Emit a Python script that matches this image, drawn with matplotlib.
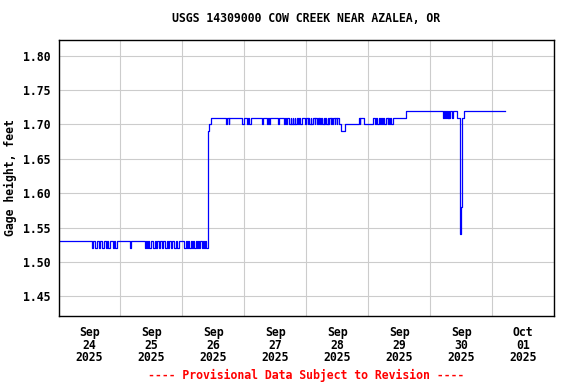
import numpy as np
import pandas as pd
import matplotlib
matplotlib.use("Agg")
import matplotlib.pyplot as plt
import matplotlib.dates as mdates

# Dados: horas desde 24/09/2025 00:00 e altura (pés) em cada mudança de nível

horas_1 = [0, 13.0, 13.5, 14.0, 15.0, 15.5, 16.0, 16.75, 17.75, 18.25, 18.75,
           19.25, 20.0, 21.0, 21.5, 22.0, 22.5, 27.75, 28.0, 33.5, 33.75,
           34.25, 34.5, 35.25, 35.75, 36.5, 37.25, 37.75, 38.0, 38.75, 39.25,
           40.0, 40.5, 41.25, 42.0, 42.25, 43.0, 43.5, 44.0, 44.75, 45.5,
           45.75, 46.5, 48.5, 49.25, 49.75, 50.0, 50.5, 51.25, 51.75, 52.0,
           52.5, 53.25, 53.5, 54.0, 54.5, 55.0, 55.5, 56.0, 56.25, 56.75, 57.0]
altura_1 = [1.53, 1.52, 1.53, 1.52, 1.53, 1.52, 1.53, 1.52, 1.53, 1.52, 1.53,
            1.52, 1.53, 1.52, 1.53, 1.52, 1.53, 1.52, 1.53, 1.52, 1.53,
            1.52, 1.53, 1.52, 1.53, 1.52, 1.53, 1.52, 1.53, 1.52, 1.53,
            1.52, 1.53, 1.52, 1.53, 1.52, 1.53, 1.52, 1.53, 1.52, 1.53,
            1.52, 1.53, 1.52, 1.53, 1.52, 1.53, 1.52, 1.53, 1.52, 1.53,
            1.52, 1.53, 1.52, 1.53, 1.52, 1.53, 1.52, 1.53, 1.52, 1.53, 1.52]

# subida do dia 26
horas_2 = [57.75, 58.0, 58.5, 59.25]
altura_2 = [1.63, 1.69, 1.70, 1.71]

horas_3 = [64.75, 65.25, 66.0, 66.25, 71.25, 72.0, 73.0, 73.25, 74.0, 74.75,
           78.75, 79.25, 80.75, 81.0, 81.5, 82.0, 85.0, 85.25, 87.5, 87.75,
           88.25, 88.5, 89.5, 90.0, 90.25, 90.75, 91.0, 91.5, 91.75, 92.25,
           92.75, 93.25, 93.75, 94.25, 95.5, 96.0, 96.5, 96.75, 97.25, 97.75,
           98.0, 98.5, 99.25, 99.5, 100.0, 100.5, 100.75, 101.0, 101.25, 101.75,
           102.25, 102.75, 103.0, 103.25, 103.75, 104.25, 104.5, 105.0, 105.5, 105.75,
           106.0, 106.5, 107.0, 107.25, 107.75, 108.0, 108.5, 109.5, 111.0]
altura_3 = [1.70, 1.71, 1.70, 1.71, 1.70, 1.71, 1.70, 1.71, 1.70, 1.71,
            1.70, 1.71, 1.70, 1.71, 1.70, 1.71, 1.70, 1.71, 1.70, 1.71,
            1.70, 1.71, 1.70, 1.71, 1.70, 1.71, 1.70, 1.71, 1.70, 1.71,
            1.70, 1.71, 1.70, 1.71, 1.70, 1.71, 1.70, 1.71, 1.70, 1.71,
            1.70, 1.71, 1.70, 1.71, 1.70, 1.71, 1.70, 1.71, 1.70, 1.71,
            1.70, 1.71, 1.70, 1.71, 1.70, 1.71, 1.70, 1.71, 1.70, 1.71,
            1.70, 1.71, 1.70, 1.71, 1.70, 1.71, 1.70, 1.69, 1.70]

horas_4 = [116.25, 116.75, 117.0, 118.25, 122.0, 122.5, 123.0, 123.5, 124.0, 124.75,
           125.0, 125.5, 125.75, 126.25, 127.0, 127.5, 127.75, 128.25, 128.5, 129.0,
           129.5, 134.5]
altura_4 = [1.71, 1.70, 1.71, 1.70, 1.71, 1.70, 1.71, 1.70, 1.71, 1.70,
            1.71, 1.70, 1.71, 1.70, 1.71, 1.70, 1.71, 1.70, 1.71, 1.70,
            1.71, 1.72]

horas_5 = [149.0, 149.5, 149.75, 150.25, 150.5, 150.75, 151.0, 151.25, 151.5, 151.75,
           152.5, 152.75, 154.25, 155.5, 155.75, 156.0, 156.25, 157.0, 173.0]
altura_5 = [1.71, 1.72, 1.71, 1.72, 1.71, 1.72, 1.71, 1.72, 1.71, 1.72,
            1.71, 1.72, 1.71, 1.58, 1.54, 1.58, 1.71, 1.72, 1.72]

horas = horas_1 + horas_2 + horas_3 + horas_4 + horas_5
altura = altura_1 + altura_2 + altura_3 + altura_4 + altura_5

inicio = pd.Timestamp("2025-09-24 00:00")
tempo = inicio + pd.to_timedelta(horas, unit="h")

# Gráfico

plt.rcParams["font.family"] = "DejaVu Sans Mono"
plt.rcParams["font.weight"] = "bold"
plt.rcParams["axes.labelweight"] = "bold"
plt.rcParams["font.size"] = 8.3

fig = plt.figure(figsize=(5.76, 3.84), dpi=100)
ax = fig.add_axes([58.5 / 576, 1 - 316 / 384, (554 - 58.5) / 576, (316 - 39.5) / 384])

ax.step(tempo, altura, where="post", color="#0000ff", linewidth=0.9)

ax.set_xlim(pd.Timestamp("2025-09-24"), pd.Timestamp("2025-10-02"))
ax.set_ylim(1.4215, 1.8235)

ax.xaxis.set_major_locator(mdates.DayLocator())
ax.xaxis.set_major_formatter(plt.NullFormatter())
ax.xaxis.set_minor_locator(mdates.HourLocator(byhour=[12]))
ax.xaxis.set_minor_formatter(mdates.DateFormatter("%b\n%d\n%Y"))
ax.set_yticks([1.45, 1.50, 1.55, 1.60, 1.65, 1.70, 1.75, 1.80])
ax.yaxis.set_major_formatter(plt.FormatStrFormatter("%.2f"))

ax.tick_params(axis="x", which="both", length=0, pad=7)
ax.tick_params(axis="y", length=0, pad=6)
plt.setp(ax.get_xminorticklabels(), linespacing=0.98, fontweight="bold")
plt.setp(ax.get_yticklabels(), fontweight="bold")
ax.grid(True, which="major", color="#cccccc", linewidth=0.8)
ax.set_axisbelow(True)
for s in ax.spines.values():
    s.set_linewidth(1.0)

ax.set_ylabel("Gage height, feet", labelpad=4, fontweight="bold")
fig.text(306 / 576, 1 - 19 / 384, "USGS 14309000 COW CREEK NEAR AZALEA, OR",
         ha="center", va="center", fontweight="bold")
fig.text(306 / 576, 1 - 375 / 384, "---- Provisional Data Subject to Revision ----",
         ha="center", va="center", color="#ff0000", fontweight="bold")

plt.savefig("out.png", dpi=100)
